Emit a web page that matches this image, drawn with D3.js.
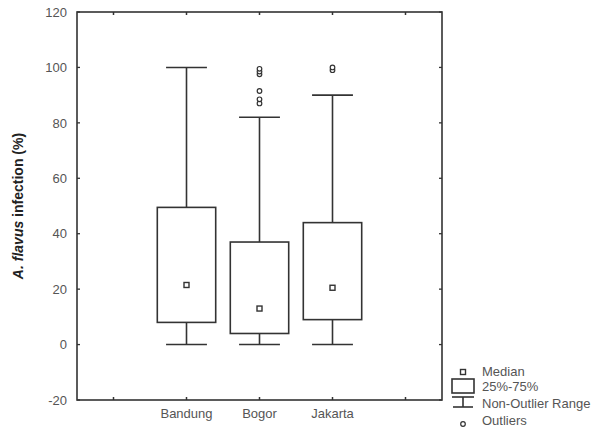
<!DOCTYPE html>
<html>
<head>
<meta charset="utf-8">
<script src="https://cdn.jsdelivr.net/npm/d3@7"></script>
<style>
  body { margin: 0; background: #fff; }
  text { font-family: "Liberation Sans", Arial, sans-serif; }
</style>
</head>
<body>
<svg id="chart" width="595" height="432"></svg>
<script>
// Data
var sites     = ["Bandung", "Bogor", "Jakarta"];
var q1        = [8, 4, 9];
var q3        = [49.5, 37, 44];
var medians   = [21.5, 13, 20.5];
var whiskLow  = [0, 0, 0];
var whiskHigh = [100, 82, 90];
var outliers  = [[], [87, 88.5, 91.5, 97.5, 98.5, 99.5], [99, 100]];
var yTicks    = [-20, 0, 20, 40, 60, 80, 100, 120];
var legendLabels = ["Median", "25%-75%", "Non-Outlier Range", "Outliers"];

var lineCol = "#333";
var textCol = "#555";

var plotLeft = 77, plotRight = 442, plotTop = 12, plotBottom = 400;

var svg = d3.select("#chart");

var xScale = d3.scaleBand()
    .domain(sites)
    .range([plotLeft, plotRight])
    .paddingInner(0)
    .paddingOuter(1);

var yScale = d3.scaleLinear()
    .domain([-20, 120])
    .range([plotBottom, plotTop]);

var step = xScale.step();
var boxW = step * 0.8;
var capW = step * 0.56;

function cx(s) { return xScale(s) + xScale.bandwidth() / 2; }

// frame
svg.append("rect")
    .attr("x", plotLeft).attr("y", plotTop)
    .attr("width", plotRight - plotLeft).attr("height", plotBottom - plotTop)
    .attr("fill", "none").attr("stroke", lineCol).attr("stroke-width", 1.6);

// x tick marks (inner, top + bottom), one extra each side
var xTickPos = [cx(sites[0]) - step].concat(sites.map(cx)).concat([cx(sites[2]) + step]);
xTickPos.forEach(function(px) {
    svg.append("line").attr("x1", px).attr("x2", px)
        .attr("y1", plotBottom).attr("y2", plotBottom - 3)
        .attr("stroke", lineCol).attr("stroke-width", 1.5);
    svg.append("line").attr("x1", px).attr("x2", px)
        .attr("y1", plotTop).attr("y2", plotTop + 3)
        .attr("stroke", lineCol).attr("stroke-width", 1.5);
});

// y axis labels + inner ticks (plain hyphen for negatives)
var yAxis = d3.axisLeft(yScale).tickValues(yTicks).tickSize(0).tickPadding(10)
    .tickFormat(function(d) { return String(d); });
var gy = svg.append("g").attr("transform", "translate(" + plotLeft + ",0)").call(yAxis);
gy.select(".domain").remove();
gy.selectAll("text").attr("fill", textCol).style("font-size", "13px")
    .style("font-family", "'Liberation Sans', Arial, sans-serif");

yTicks.forEach(function(v) {
    svg.append("line").attr("x1", plotLeft).attr("x2", plotLeft + 3)
        .attr("y1", yScale(v)).attr("y2", yScale(v))
        .attr("stroke", lineCol).attr("stroke-width", 1.3);
    svg.append("line").attr("x1", plotRight).attr("x2", plotRight - 3)
        .attr("y1", yScale(v)).attr("y2", yScale(v))
        .attr("stroke", lineCol).attr("stroke-width", 1.3);
});

// x labels
var xAxis = d3.axisBottom(xScale).tickSize(0).tickPadding(9);
var gx = svg.append("g").attr("transform", "translate(0," + plotBottom + ")").call(xAxis);
gx.select(".domain").remove();
gx.selectAll("text").attr("fill", textCol).style("font-size", "13px")
    .style("font-family", "'Liberation Sans', Arial, sans-serif");

// y title
var yTitle = svg.append("text")
    .attr("transform", "translate(23," + ((plotTop + plotBottom) / 2) + ") rotate(-90)")
    .attr("text-anchor", "middle")
    .attr("fill", "#222")
    .style("font-size", "14px")
    .style("font-weight", "bold");
yTitle.append("tspan").style("font-style", "italic").text("A. flavus");
yTitle.append("tspan").text(" infection (%)");

// boxes
sites.forEach(function(s, i) {
    var x0 = cx(s);
    var g = svg.append("g").attr("stroke", lineCol).attr("stroke-width", 1.6).attr("fill", "none");

    // whiskers
    g.append("line").attr("x1", x0).attr("x2", x0)
        .attr("y1", yScale(q3[i])).attr("y2", yScale(whiskHigh[i]));
    g.append("line").attr("x1", x0).attr("x2", x0)
        .attr("y1", yScale(q1[i])).attr("y2", yScale(whiskLow[i]));
    g.append("line").attr("x1", x0 - capW / 2).attr("x2", x0 + capW / 2)
        .attr("y1", yScale(whiskHigh[i])).attr("y2", yScale(whiskHigh[i]));
    g.append("line").attr("x1", x0 - capW / 2).attr("x2", x0 + capW / 2)
        .attr("y1", yScale(whiskLow[i])).attr("y2", yScale(whiskLow[i]));

    // box
    g.append("rect")
        .attr("x", x0 - boxW / 2).attr("y", yScale(q3[i]))
        .attr("width", boxW).attr("height", yScale(q1[i]) - yScale(q3[i]))
        .attr("fill", "#fff");

    // median
    g.append("rect")
        .attr("x", x0 - 2.5).attr("y", yScale(medians[i]) - 2.5)
        .attr("width", 5).attr("height", 5)
        .attr("stroke-width", 1.4).attr("fill", "#fff");

    // outliers
    g.selectAll("ellipse").data(outliers[i]).enter()
        .append("ellipse")
        .attr("cx", x0).attr("cy", function(d) { return yScale(d); })
        .attr("rx", 2.3).attr("ry", 2.3)
        .attr("stroke-width", 1.2).attr("fill", "#fff");
});

// legend
var lx = 463, tx = 482;
var lg = svg.append("g").attr("stroke", lineCol).attr("fill", "none");
lg.append("rect").attr("x", lx - 2.5).attr("y", 369.5).attr("width", 5).attr("height", 5)
    .attr("stroke-width", 1.4).attr("fill", "#fff");
lg.append("rect").attr("x", lx - 11).attr("y", 379).attr("width", 22).attr("height", 14)
    .attr("stroke-width", 1.6).attr("fill", "#fff");
lg.append("line").attr("x1", lx - 11).attr("x2", lx + 11).attr("y1", 397).attr("y2", 397).attr("stroke-width", 1.6);
lg.append("line").attr("x1", lx).attr("x2", lx).attr("y1", 397).attr("y2", 407).attr("stroke-width", 1.6);
lg.append("line").attr("x1", lx - 10).attr("x2", lx + 10).attr("y1", 407).attr("y2", 407).attr("stroke-width", 1.6);
lg.append("circle").attr("cx", lx).attr("cy", 424).attr("r", 2.3).attr("stroke-width", 1.2).attr("fill", "#fff");

var legendY = [376, 391, 408, 425];
legendLabels.forEach(function(t, i) {
    svg.append("text").attr("x", tx).attr("y", legendY[i])
        .attr("fill", textCol).style("font-size", "13px").text(t);
});
</script>
</body>
</html>
